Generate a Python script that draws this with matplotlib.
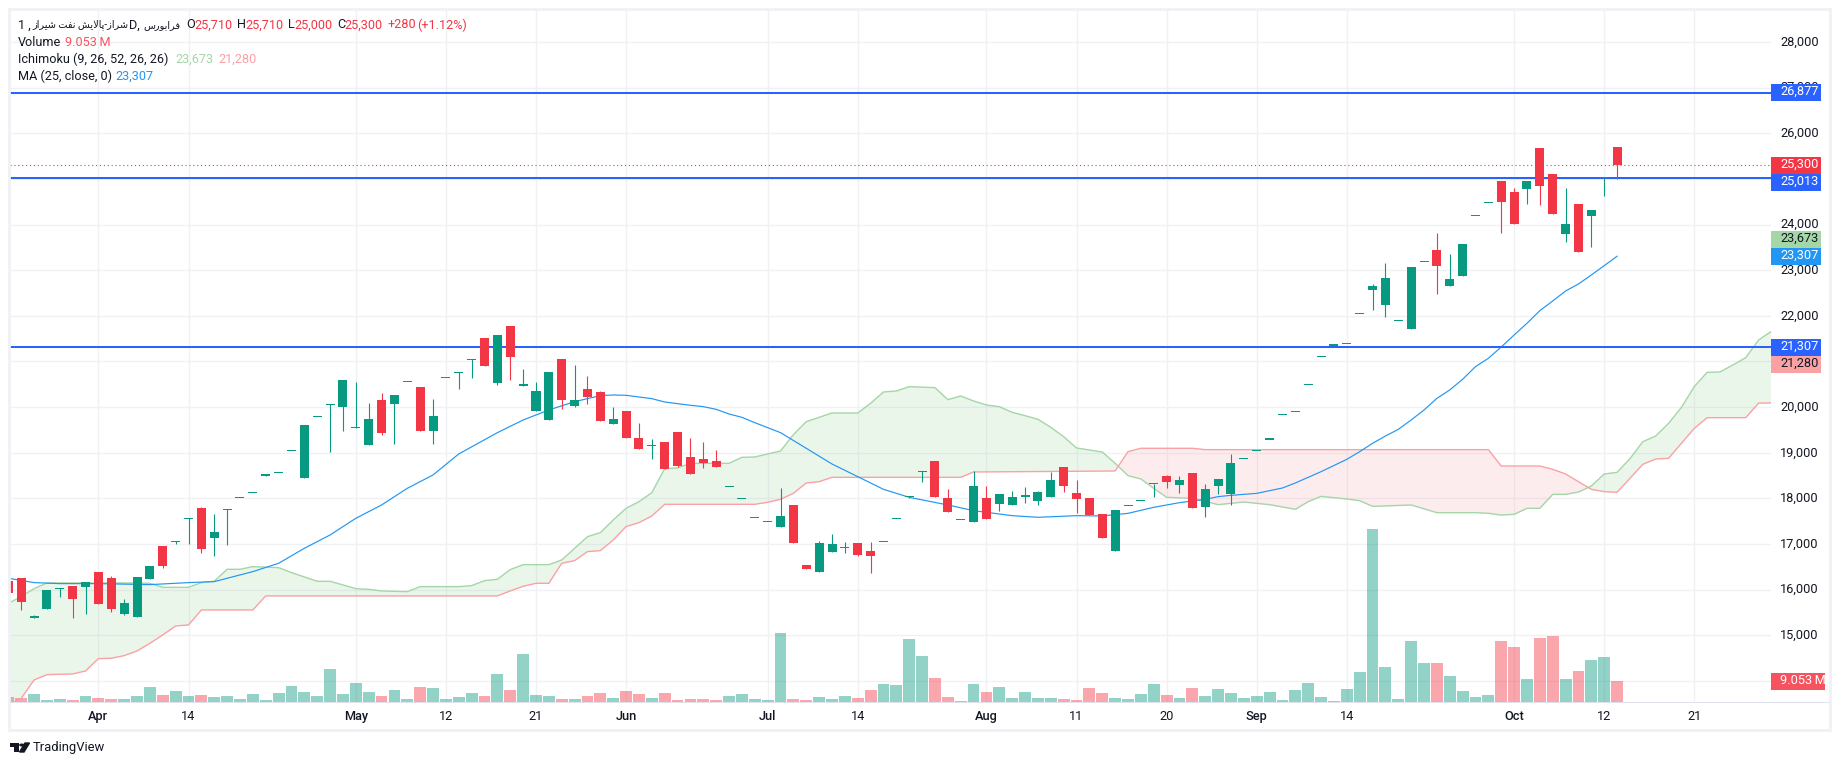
import matplotlib
matplotlib.use('Agg')
import matplotlib.pyplot as plt
from matplotlib.patches import Rectangle, Polygon, Circle
from matplotlib.transforms import ScaledTranslation
import numpy as np

W, H = 1840, 765
plt.rcParams['font.family'] = ['Roboto', 'DejaVu Sans']

# свечи: индекс бара -7..118
opens = [16190, 16260, 15390, 15580, 16020, 16080, 16060, 16390, 16260, 15470,
         15400, 16240, 16960, 17050, 17550, 17790, 17130, 17750, 18000, 18110,
         18500, 18550, 19030, 18450, 19780, 20050, 20000, 19550, 19170, 20160,
         20070, 20540, 20440, 19480, 20630, 20750, 21040, 21520, 20530, 21780,
         20460, 19920, 19720, 21060, 20030, 20400, 20330, 19630, 19920, 19320,
         19140, 19240, 19460, 18910, 18860, 18820, 18240, 17980, 17560, 17480,
         17370, 17860, 16540, 16390, 16830, 16910, 17020, 16850, 17040, 17540,
         18030, 18580, 18820, 18010, 17520, 17480, 18010, 17880, 17860, 18040,
         17940, 18030, 18690, 18120, 18010, 17660, 16850, 17830, 17940, 18310,
         18490, 18290, 18560, 17810, 18270, 18100, 18860, 19030, 19290, 19820,
         19890, 20480, 21090, 21350, 21380, 22030, 22570, 22240, 21880, 21710,
         23170, 23440, 22650, 22870, 24180, 24470, 24960, 24710, 24780, 25680,
         25110, 23790, 24450, 24190, 25010, 25710]
highs = [16190, 16260, 15450, 15990, 16030, 16080, 16170, 16390, 16300, 15800,
         16280, 16520, 16960, 17060, 17560, 17810, 17660, 17760, 18010, 18120,
         18510, 18550, 19030, 19610, 19780, 20060, 20600, 20550, 20090, 20310,
         20270, 20540, 20440, 20180, 20630, 20760, 21050, 21520, 21580, 21780,
         20840, 20550, 20770, 21060, 20920, 20680, 20350, 20000, 19920, 19650,
         19300, 19240, 19460, 19320, 19240, 19060, 18240, 17980, 17560, 17480,
         18230, 17860, 16540, 17070, 17220, 17050, 17020, 17050, 17040, 17540,
         18040, 18590, 18820, 18210, 17520, 18600, 18270, 18100, 18160, 18250,
         18160, 18580, 18690, 18400, 18010, 17660, 17750, 17830, 17940, 18320,
         18510, 18490, 18560, 18320, 18430, 18970, 18860, 19030, 19290, 19820,
         19890, 20480, 21090, 21350, 21380, 22030, 22700, 23160, 21880, 23070,
         23170, 23820, 23360, 23580, 24180, 24470, 24960, 24800, 24960, 25680,
         25110, 24800, 24450, 24320, 25020, 25710]
lows = [15930, 15560, 15390, 15580, 15830, 15380, 15470, 15690, 15510, 15450,
        15400, 16240, 16480, 17010, 17000, 16800, 16740, 16980, 18000, 18110,
        18500, 18550, 19030, 18450, 19780, 19020, 19480, 19550, 19170, 19390,
        19190, 20540, 19480, 19190, 20630, 20400, 20640, 20900, 20490, 20600,
        20460, 19920, 19720, 19960, 20000, 20070, 19700, 19630, 19320, 19080,
        18860, 18640, 18690, 18530, 18670, 18690, 18240, 17980, 17560, 17480,
        17370, 17020, 16450, 16390, 16830, 16800, 16740, 16370, 17040, 17540,
        18000, 18360, 18030, 17700, 17520, 17480, 17550, 17720, 17860, 17900,
        17860, 18030, 18140, 17680, 17640, 17130, 16850, 17830, 17940, 18030,
        18230, 18120, 17790, 17590, 18100, 17860, 18860, 19030, 19290, 19820,
        19890, 20480, 21090, 21350, 21380, 22030, 22130, 21980, 21880, 21710,
        23170, 22480, 22650, 22870, 24180, 24470, 23820, 24010, 24450, 24430,
        24230, 23620, 23400, 23510, 24630, 25000]
closes = [15930, 15720, 15410, 15990, 16030, 15800, 16170, 15690, 15580, 15710,
          16280, 16520, 16520, 17060, 17560, 16890, 17270, 17760, 18010, 18120,
          18510, 18550, 19030, 19610, 19780, 20060, 20600, 19560, 19740, 19430,
          20270, 20540, 19480, 19810, 20630, 20760, 21050, 20900, 21580, 21100,
          20510, 20350, 20770, 20160, 20160, 20220, 19700, 19740, 19320, 19080,
          19150, 18640, 18710, 18530, 18780, 18690, 18240, 17980, 17560, 17480,
          17620, 17020, 16450, 17020, 17000, 16920, 16760, 16740, 17040, 17540,
          18040, 18590, 18030, 17700, 17520, 18270, 17550, 18100, 18030, 18050,
          18140, 18400, 18270, 17990, 17640, 17130, 17750, 17830, 17940, 18320,
          18360, 18400, 17790, 18210, 18430, 18780, 18860, 19030, 19290, 19820,
          19890, 20480, 21090, 21350, 21380, 22030, 22650, 22830, 21880, 23070,
          23170, 23090, 22810, 23580, 24180, 24470, 24500, 24010, 24960, 24850,
          24230, 24010, 23400, 24320, 25020, 25300]

# объём, млн
volumes = [2.16, 1.72, 3.45, 0.86, 1.29, 0.86, 2.59, 1.72, 1.29, 1.29,
           2.59, 6.47, 3.02, 4.74, 2.59, 3.02, 2.16, 2.59, 1.29, 3.45,
           0.86, 3.88, 6.90, 4.31, 2.59, 14.23, 3.45, 8.19, 4.31, 2.59,
           5.17, 1.29, 6.47, 6.04, 1.29, 2.16, 3.88, 2.59, 12.07, 5.17,
           20.69, 3.02, 2.59, 1.29, 1.29, 2.59, 3.88, 1.72, 4.74, 3.45,
           1.72, 3.88, 0.86, 1.29, 1.29, 0.86, 2.59, 3.45, 1.29, 0.86,
           29.75, 1.29, 0.86, 2.16, 1.29, 2.59, 1.72, 5.17, 7.76, 7.33,
           27.16, 19.83, 10.35, 2.16, 0.43, 7.76, 4.31, 6.47, 1.72, 4.31,
           1.72, 1.72, 1.29, 0.86, 6.04, 3.88, 1.72, 1.29, 3.45, 7.76,
           3.02, 1.72, 6.04, 2.59, 5.60, 3.88, 1.72, 2.59, 4.31, 0.86,
           5.17, 8.19, 2.16, 0.43, 5.60, 12.93, 74.58, 15.09, 1.29, 26.30,
           16.81, 16.81, 11.20, 4.74, 2.16, 3.02, 26.30, 23.71, 9.92, 27.59,
           28.45, 9.92, 13.36, 18.11, 19.40, 9.05]

ma_bars = [-7, -5, -3, 0, 4, 7, 9, 12, 14, 16, 18, 20, 22, 24, 26, 28, 31, 33, 35, 37, 39, 40,
           41, 43, 44, 46, 47, 48, 49, 50, 51, 53, 55, 57, 59, 61, 63, 66, 68, 71, 73, 76, 78,
           80, 82, 84, 86, 87, 88, 90, 92, 93, 95, 97, 98, 99, 100, 101, 102, 103, 104, 105,
           106, 107, 108, 109, 110, 111, 112, 113, 114, 115, 116, 117, 118]
ma_vals = [16250, 16155, 16133, 16133, 16111, 16155, 16177, 16396, 16578, 16907, 17199, 17564,
           17856, 18221, 18514, 18974, 19441, 19718, 19938, 20120, 20252, 20266,
           20259, 20186, 20113, 20040, 20011, 19952, 19850, 19777, 19660, 19441, 19098, 18754,
           18477, 18199, 18024, 17856, 17732, 17622, 17586, 17622, 17615,
           17673, 17805, 17907, 17980, 18039, 18067, 18111, 18228, 18338, 18586, 18856, 19024,
           19207, 19367, 19513, 19718, 19937, 20192, 20377,
           20610, 20888, 21070, 21318, 21581, 21837, 22115, 22326, 22545, 22699, 22896, 23100, 23307]

span_a_bars = [-7, -6, -5, -4, 3, 4, 5, 7, 8, 9, 10, 11, 12, 14, 15, 17, 18, 20, 21, 22, 24, 25, 28,
               29, 30, 31, 32, 33, 35, 36, 38, 39, 40, 41, 42, 43, 44, 45, 46, 49, 50, 51, 52, 53,
               54, 55, 56, 57, 59, 60, 61, 62, 63, 65, 66, 67, 68, 69, 70, 71, 72, 73, 74, 75, 76,
               77, 78, 79, 80, 81, 82, 83, 85, 86, 87, 89, 91, 93, 94, 95, 97, 98, 99, 102, 104,
               107, 108, 109, 110, 111, 112, 113, 114, 115, 116, 117, 118, 119, 120, 121, 122, 123,
               124, 125, 126, 127, 128, 129, 130]
span_a_vals = [15702, 15848, 16023, 16147, 16147, 16140, 16052, 16052, 16155, 16184, 16447, 16447,
               16505, 16483, 16374, 16184, 16184, 16023, 16008, 15972, 15957, 16067, 16067,
               16089, 16198, 16228, 16440, 16549, 16549, 16651, 17162, 17250, 17527, 17783, 17929,
               18126, 18652, 18667, 18769, 18769, 18900, 18908, 18974, 19039,
               19397, 19682, 19777, 19872, 19872, 20084, 20332, 20354, 20449, 20427, 20164, 20244,
               20135, 20047, 20011, 19886, 19813, 19733, 19558, 19353, 19105,
               19061, 19017, 18769, 18499, 18426, 18221, 18024, 18002, 17937, 17863, 17921, 17863,
               17761, 17929, 18045, 17987, 17950, 17826, 17856, 17688,
               17688, 17673, 17636, 17651, 17783, 17783, 18089, 18089, 18140, 18272, 18535, 18571,
               18871, 19243, 19367, 19645, 19995,
               20450, 20763, 20771, 20924, 21085, 21472, 21662]

span_b_bars = [-7, -6, -5, -4, -2, -1, 0, 1, 2, 3, 4, 5, 6, 7, 8, 12, 13, 31, 32, 33, 34, 35, 36, 37,
               38, 39, 40, 41, 42, 43, 44, 51, 52, 53, 54, 55, 56, 57, 67, 68, 79, 80, 81, 85, 86,
               108, 109, 112, 113, 114, 115, 116, 117, 118, 119, 120, 121, 122, 123, 124, 125, 128,
               129, 130]
span_b_vals = [13474, 13620, 14022, 14139, 14154, 14219, 14490, 14497, 14555, 14657, 14825, 15008,
               15205, 15227, 15556, 15556, 15863, 15863, 15972, 16074, 16140, 16140, 16578, 16637,
               16834, 16856, 17089, 17382, 17469, 17615, 17871, 17871, 17915, 17980, 18112, 18338,
               18367, 18462, 18462, 18579, 18601, 19025, 19098, 19098, 19068,
               19068, 18710, 18710, 18637, 18535, 18367, 18199, 18148, 18133, 18440, 18747, 18863,
               18878, 19207, 19535, 19769, 19769, 20090, 20090]

level_lines = [26877, 25013, 21307]
last_close = 25300
price_ticks = list(range(14000, 29000, 1000))
hidden_ticks = [14000, 21000, 25000]  # закрыты плашками на шкале
date_bars = [0, 7, 20, 27, 34, 41, 52, 59, 69, 76, 83, 90, 97, 110, 117, 124]
date_labels = ['Apr', '14', 'May', '12', '21', 'Jun', 'Jul', '14', 'Aug', '11', '20', 'Sep', '14', 'Oct', '12', '21']
months = ['Apr', 'May', 'Jun', 'Jul', 'Aug', 'Sep', 'Oct']

GREEN = '#089981'
RED = '#f23645'
BLUE = '#2962ff'
GRID = '#f0f1f5'
TXT = '#131722'

fig = plt.figure(figsize=(W / 100, H / 100), dpi=100, facecolor='white')


def px_text(x, y, s, color=TXT, size=9.1, **kw):
    return fig.text(x / W, 1 - y / H, s, color=color, fontsize=size, va='center', zorder=30, **kw)


def px_rect(x0, y0, x1, y1, color, fill=True, lw=0):
    fig.add_artist(Rectangle((x0 / W, 1 - y1 / H), (x1 - x0) / W, (y1 - y0) / H, transform=fig.transFigure,
                             facecolor=color if fill else 'none', edgecolor=color if not fill else 'none',
                             linewidth=lw, zorder=20))


# рамка вокруг графика
px_rect(9, 9, 1830, 730, '#f0f1f6', fill=False, lw=2)

left, right, top, bottom = 10, 1771, 10, 702
ax = fig.add_axes([left / W, 1 - bottom / H, (right - left) / W, (bottom - top) / H])
ax_vol = ax.twinx()
ax.set_zorder(ax_vol.get_zorder() + 1)
ax.patch.set_visible(False)
ax_vol.patch.set_facecolor('white')

bars = np.arange(-7, 119)
opens_a, closes_a = np.array(opens), np.array(closes)
up = closes_a >= opens_a

# объём
ax_vol.bar(bars, volumes, width=0.92, color=np.where(up, GREEN, RED), alpha=0.44, linewidth=0, zorder=3)
ax_vol.set_ylim(0, 298)
ax_vol.set_yticks([])

# облако Ишимоку
grid_x = np.arange(-7, 131)
a_line = np.interp(grid_x, span_a_bars, span_a_vals)
b_line = np.interp(grid_x, span_b_bars, span_b_vals)
ax.fill_between(grid_x, a_line, b_line, where=a_line >= b_line, interpolate=True, color='#4caf50', alpha=0.11, lw=0)
ax.fill_between(grid_x, a_line, b_line, where=a_line < b_line, interpolate=True, color='#f23645', alpha=0.09, lw=0)
ax.plot(span_a_bars, span_a_vals, color='#a5d6a7', lw=1.0, zorder=2)
ax.plot(span_b_bars, span_b_vals, color='#faa1a4', lw=1.0, zorder=2)

# MA
ax.plot(ma_bars, ma_vals, color='#2196f3', lw=0.85, zorder=3)

# уровни
for lvl in level_lines:
    ax.axhline(lvl, color=BLUE, lw=1.45, zorder=5)
ax.axhline(last_close, color=RED, lw=0.8, ls=(0, (1, 2.5)), zorder=4)

# свечи
colors = np.where(up, GREEN, RED)
ax.vlines(bars, lows, highs, colors=colors, lw=0.8, zorder=6)
body_low = np.minimum(opens_a, closes_a)
body_h = np.maximum(np.abs(closes_a - opens_a), 24)
ax.bar(bars, body_h, bottom=body_low, width=0.7, color=colors, linewidth=0, zorder=7)

ax.set_xlim(-6.87, 129.96)
ax.set_ylim(13539, 28702)
ax.set_xticks(date_bars)
ax.set_xticklabels(date_labels)
for lab in ax.get_xticklabels():
    if lab.get_text() in months:
        lab.set_fontweight('medium')
ax.yaxis.tick_right()
ax.set_yticks(price_ticks)
ax.set_yticklabels(['' if p in hidden_ticks else f'{p:,}' for p in price_ticks])
ax.tick_params(axis='y', length=0, pad=6.5, labelsize=9.2, labelcolor=TXT)
ax.tick_params(axis='x', length=0, pad=6, labelsize=9.2, labelcolor=TXT)
for lab in ax.get_yticklabels():
    lab.set_transform(lab.get_transform() + ScaledTranslation(0, 1.5 / 100, fig.dpi_scale_trans))

# сетка под объёмом, чтобы просвечивала сквозь столбики
for p in price_ticks:
    ax_vol.plot([0, 1], [p, p], transform=ax.get_yaxis_transform(), color=GRID, lw=1.0, zorder=1)
for b in date_bars:
    ax_vol.plot([b, b], [0, 1], transform=ax.get_xaxis_transform(), color=GRID, lw=1.0, zorder=1)

for a in (ax, ax_vol):
    for s in a.spines.values():
        s.set_visible(False)
px_rect(10, 701.5, 1830, 703, '#e0e3eb')

# плашки цен на шкале
price_boxes = [
    ('26,877', 84.5, 101, BLUE, 'white', 1821),
    ('25,300', 157, 174, RED, 'white', 1821),
    ('25,013', 174, 191, BLUE, 'white', 1821),
    ('23,673', 231, 248, '#a5d6a7', TXT, 1821),
    ('23,307', 248, 265, '#2196f3', 'white', 1821),
    ('21,307', 339, 356, BLUE, 'white', 1821),
    ('21,280', 356, 373, '#faa1a4', TXT, 1821),
    ('9.053\u2009M', 673, 690, '#f7525f', 'white', 1825),
]
for label, y0, y1, bg, fg, xr in price_boxes:
    px_rect(1771.5, y0, xr, y1, bg)
    px_text(1780, (y0 + y1) / 2 - 1, label, color=fg, size=9.2)

# легенда
ar_shiraz = '\uFEAF\uFE8D\uFEAE\uFBFF\uFEB7'
ar_naft = '\uFE96\uFED4\uFEE7'
ar_palayesh = '\uFEB6\uFBFE\uFEFB\uFE8E\uFB58'
ar_sheraz = '\uFEAF\uFE8D\uFEAE\uFEB7'
ar_farabourse = '\uFEB1\uFEAD\uFEEE\uFE91\uFE8D\uFEAE\uFED3'
px_text(18, 25, '1 ,')
px_text(32, 25, f'{ar_shiraz} {ar_naft} {ar_palayesh}-{ar_sheraz}', size=7.0)
px_text(129, 25, 'D,')
px_text(143, 25, ar_farabourse, size=7.0)
px_text(186, 25, 'O')
px_text(194, 25, '25,710', color=RED)
px_text(237, 25, 'H')
px_text(245, 25, '25,710', color=RED)
px_text(288, 25, 'L')
px_text(294.5, 25, '25,000', color=RED)
px_text(337, 25, 'C')
px_text(344.5, 25, '25,300', color=RED)
px_text(387.5, 25, '+280', color=RED)
px_text(417, 25, '(+1.12%)', color=RED)
px_text(18, 42, 'Volume')
px_text(65, 42, '9.053\u2009M', color='#f7525f')
px_text(18, 59, 'Ichimoku (9, 26, 52, 26, 26)')
px_text(175, 59, '23,673', color='#a5d6a7')
px_text(218, 59, '21,280', color='#faa1a4')
px_text(18, 76, 'MA (25, close, 0)')
px_text(115.5, 76, '23,307', color='#2196f3')

# логотип
px_rect(10, 743, 19, 746.5, TXT)
px_rect(14.5, 743, 19, 752, TXT)
fig.add_artist(Circle((21.8 / W, 1 - 745 / H), 1.9 / W, transform=fig.transFigure, color=TXT))
fig.add_artist(Polygon([(25 / W, 1 - 743 / H), (29.5 / W, 1 - 743 / H), (24 / W, 1 - 752 / H), (19.5 / W, 1 - 752 / H)],
                       closed=True, transform=fig.transFigure, color=TXT))
px_text(33, 747.5, 'TradingView', size=9.4)

fig.savefig('out.png', dpi=100)
